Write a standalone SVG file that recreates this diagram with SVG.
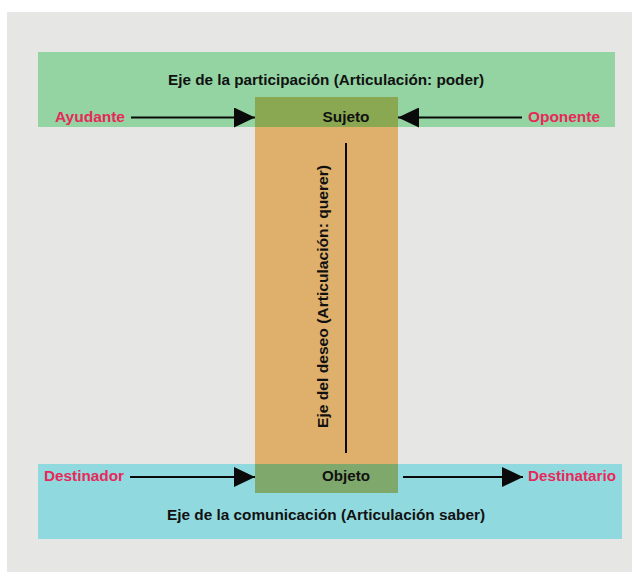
<svg xmlns="http://www.w3.org/2000/svg" width="632" height="572" viewBox="0 0 632 572">
<defs>
<marker id="ah" markerWidth="21" markerHeight="20" refX="21" refY="10" orient="auto" markerUnits="userSpaceOnUse">
<path d="M0,0 L21,10 L0,20 Z" fill="#0a0a0a"/>
</marker>
<style>
text{font-family:"Liberation Sans","DejaVu Sans",sans-serif;font-weight:bold;font-size:14px}
.t{fill:#111}
.r{fill:#e8285a}
.c{text-anchor:middle}
.ln{stroke:#0a0a0a;stroke-width:2;fill:none}
</style>
</defs>
<rect x="7" y="12" width="625" height="560" fill="#e6e6e4"/>
<g id="eje-participacion">
<rect x="38" y="52" width="577" height="75" fill="#93d4a2"/>
<text class="t c" x="326" y="85" textLength="316" lengthAdjust="spacingAndGlyphs">Eje de la participación (Articulación: poder)</text>
</g>
<g id="eje-comunicacion">
<rect x="38" y="464" width="584" height="75" fill="#90d9df"/>
<text class="t c" x="326" y="520" textLength="318" lengthAdjust="spacingAndGlyphs">Eje de la comunicación (Articulación saber)</text>
</g>
<g id="eje-deseo">
<rect x="255" y="127" width="143" height="337" fill="#dfb06b"/>
<text class="t c" transform="translate(328,296.5) rotate(-90)" textLength="263" lengthAdjust="spacingAndGlyphs">Eje del deseo (Articulación: querer)</text>
</g>
<g id="sujeto">
<rect x="255" y="97" width="143" height="30" fill="#8aa852"/>
<text class="t c" x="346" y="122" textLength="47" lengthAdjust="spacingAndGlyphs">Sujeto</text>
</g>
<g id="objeto">
<rect x="255" y="464" width="143" height="29" fill="#7fa96c"/>
<text class="t c" x="346" y="481" textLength="48" lengthAdjust="spacingAndGlyphs">Objeto</text>
</g>
<g id="ayudante"><text class="r" x="55" y="122" textLength="70" lengthAdjust="spacingAndGlyphs">Ayudante</text></g>
<g id="oponente"><text class="r" x="528" y="122" textLength="72" lengthAdjust="spacingAndGlyphs">Oponente</text></g>
<g id="destinador"><text class="r" x="44" y="481" textLength="80" lengthAdjust="spacingAndGlyphs">Destinador</text></g>
<g id="destinatario"><text class="r" x="528" y="481" textLength="88" lengthAdjust="spacingAndGlyphs">Destinatario</text></g>
<g id="connectors">
<line class="ln" x1="131" y1="117.5" x2="255" y2="117.5" marker-end="url(#ah)"/>
<line class="ln" x1="522" y1="117.5" x2="398" y2="117.5" marker-end="url(#ah)"/>
<line class="ln" x1="130" y1="477" x2="255" y2="477" marker-end="url(#ah)"/>
<line class="ln" x1="403" y1="477" x2="523" y2="477" marker-end="url(#ah)"/>
<line x1="346" y1="143" x2="346" y2="453" stroke="#0a0a0a" stroke-width="2"/>
</g>
</svg>
